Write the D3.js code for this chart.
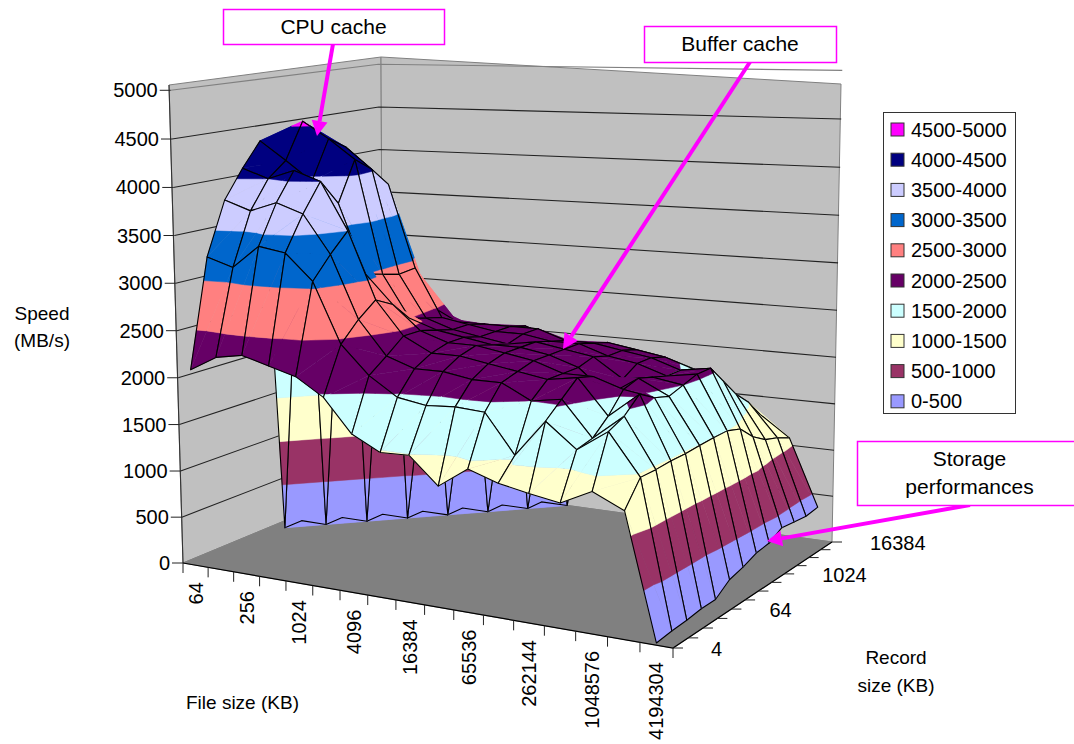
<!DOCTYPE html>
<html><head><meta charset="utf-8">
<script src="https://cdn.jsdelivr.net/npm/d3@7"></script>
<style>html,body{margin:0;background:#fff}svg{display:block;font-family:"Liberation Sans",Arial,sans-serif}</style>
</head><body><svg id="c" width="1074" height="744"></svg>
<script>
const fileSizes=[64,128,256,512,1024,2048,4096,8192,16384,32768,65536,131072,262144,524288,1048576,2097152,4194304];
const recordSizes=[4,8,16,32,64,128,256,512,1024,2048,4096,8192,16384];
const speedRecord4=[2100,2260,2310,2230,2150,1970,1630,1480,1490,1220,1430,1330,1270,1220,1370,1230,20];
const speedRecord8=[3240,3150,3390,3340,3070,2450,2160,1970,1920,1940,1920,1530,1900,1660,1870,1470,40];
const speedRecord16=[3800,3700,3800,3700,3300,2650,2300,2200,2200,2150,2150,2000,2050,1700,1950,1470,50];
const speedRecord32=[4100,4000,4100,4000,3500,2800,2450,2300,2300,2250,2200,2150,2200,1850,2100,1480,70];
const speedRecord64=[4360,4160,3950,3730,3000,2700,2450,2350,2350,2300,2250,2150,2150,2050,2000,1480,70];
const speedRecord128=[0,4550,4370,4160,2950,2500,2400,2350,2300,2300,2250,2150,1900,2100,1950,1490,180];
const speedRecord256=[0,0,4250,4020,2900,2450,2350,2300,2250,2300,2250,2200,2000,2050,2000,1500,220];
const speedRecord512=[0,0,0,3820,2920,2400,2350,2300,2300,2250,2250,2150,2100,2000,2050,1500,280];
const speedRecord1024=[0,0,0,0,2450,2300,2300,2300,2300,2200,2200,2150,2100,2000,2050,1450,300];
const speedRecord2048=[0,0,0,0,0,2200,2200,2250,2150,2100,2150,2100,2050,1950,1850,1300,380];
const speedRecord4096=[0,0,0,0,0,0,2100,2100,2000,1900,1950,1900,1800,1750,1650,1200,360];
const speedRecord8192=[0,0,0,0,0,0,0,1900,1800,1700,1700,1650,1600,1550,1500,1150,340];
const speedRecord16384=[0,0,0,0,0,0,0,0,1500,1500,1450,1400,1400,1350,1300,1080,360];
const speedRows=[speedRecord4,speedRecord8,speedRecord16,speedRecord32,speedRecord64,speedRecord128,speedRecord256,speedRecord512,speedRecord1024,speedRecord2048,speedRecord4096,speedRecord8192,speedRecord16384];
const bandLabels=["0-500","500-1000","1000-1500","1500-2000","2000-2500","2500-3000","3000-3500","3500-4000","4000-4500","4500-5000"];
const bandStarts=[0,500,1000,1500,2000,2500,3000,3500,4000,4500];
const bandColors=["#9999FF","#993366","#FFFFCC","#CCFFFF","#660066","#FF8080","#0066CC","#CCCCFF","#000080","#FF00FF"];
const speedTicks=[0,500,1000,1500,2000,2500,3000,3500,4000,4500,5000];

const svg=d3.select("#c");
const FONT=20;
// chart box corners on the page
const L=[183,563],F=[673,648],R=[832,542],B=[383,480],Lt=[169,85],Rt=[841,84],Bt=[381,57];
const uS=d3.scaleLinear().domain([-0.5,16.5]).range([0,1]);
const vS=d3.scaleLinear().domain([0,12]).range([0,1]);
const wS=d3.scaleLinear().domain([0,5000]).range([0,1]);
// perspective camera fitted to the corners
const dx1=F[0]-R[0],dx2=B[0]-R[0],sx=L[0]-F[0]+R[0]-B[0];
const dy1=F[1]-R[1],dy2=B[1]-R[1],sy=L[1]-F[1]+R[1]-B[1];
const den=dx1*dy2-dx2*dy1;
const g=(sx*dy2-dx2*sy)/den,h=(dx1*sy-sx*dy1)/den;
const a=F[0]-L[0]+g*F[0],b=B[0]-L[0]+h*B[0],c=L[0],d_=F[1]-L[1]+g*F[1],e=B[1]-L[1]+h*B[1],f=L[1];
function solveW(){
  const tops=[[0,0,Lt],[0,1,Bt],[1,1,Rt]];
  let A=[[0,0,0],[0,0,0],[0,0,0]],r=[0,0,0];
  tops.forEach(([u,v,p])=>{
    const hx=a*u+b*v+c,hy=d_*u+e*v+f,hw=g*u+h*v+1;
    [[[1,0,-p[0]],p[0]*hw-hx],[[0,1,-p[1]],p[1]*hw-hy]].forEach(([row,y])=>{
      for(let s=0;s<3;s++){r[s]+=row[s]*y;for(let t=0;t<3;t++)A[s][t]+=row[s]*row[t];}
    });
  });
  const det=m=>m[0][0]*(m[1][1]*m[2][2]-m[1][2]*m[2][1])-m[0][1]*(m[1][0]*m[2][2]-m[1][2]*m[2][0])+m[0][2]*(m[1][0]*m[2][1]-m[1][1]*m[2][0]);
  const D=det(A);
  return [0,1,2].map(k=>det(A.map((row,s)=>row.map((x,t)=>t===k?r[s]:x)))/D);
}
const [wx,wy,wh]=solveW();
function P(u,v,w){const q=g*u+h*v+wh*w+1;return [(a*u+b*v+wx*w+c)/q,(d_*u+e*v+wy*w+f)/q];}
const pt=(i,j,z)=>P(uS(i),vS(j),wS(z));
const line=d3.line();
const closed=pts=>line(pts)+"Z";

// walls and floor
svg.append("path").attr("d",closed([L,Lt,Bt,B])).attr("fill","#C0C0C0").attr("stroke","#808080");
svg.append("path").attr("d",closed([B,Bt,Rt,R])).attr("fill","#C0C0C0").attr("stroke","#808080");
svg.append("path").attr("d",closed([L,F,R,B])).attr("fill","#808080").attr("stroke","#808080");
speedTicks.slice(1,-1).forEach(t=>{
  svg.append("path").attr("d",line([P(0,0,wS(t)),P(0,1,wS(t)),P(1,1,wS(t))])).attr("fill","none").attr("stroke","#222").attr("stroke-width",1.1);
});
svg.append("path").attr("d",line([P(0,0,1),P(0,1,1),P(1,1,1)])).attr("fill","none").attr("stroke","#808080").attr("stroke-width",1.1);
svg.append("path").attr("d",line([L,Lt])).attr("stroke","#333").attr("stroke-width",1.1);
// axes
speedTicks.forEach(t=>{
  const p=P(0,0,wS(t));
  svg.append("line").attr("x1",p[0]-11).attr("x2",p[0]).attr("y1",p[1]).attr("y2",p[1]).attr("stroke","#222");
  svg.append("text").attr("x",p[0]-13).attr("y",p[1]+7).attr("text-anchor","end").attr("font-size",FONT).text(t);
});
svg.append("path").attr("d",line([L,F,R])).attr("fill","none").attr("stroke","#000").attr("stroke-width",1.2);
d3.range(0,18).forEach(k=>{
  const p=P(k/17,0,0);
  svg.append("line").attr("x1",p[0]).attr("x2",p[0]).attr("y1",p[1]).attr("y2",p[1]+10).attr("stroke","#222");
});
fileSizes.forEach((s,i)=>{
  if(i%2)return;
  const p=P(uS(i),0,0);
  svg.append("text").attr("transform",`translate(${p[0]+7},${p[1]+17}) rotate(-90)`).attr("text-anchor","end").attr("font-size",FONT).text(s);
});
recordSizes.forEach((s,j)=>{
  const p=P(1,vS(j),0);
  svg.append("line").attr("x1",p[0]).attr("x2",p[0]+10).attr("y1",p[1]).attr("y2",p[1]).attr("stroke","#222");
  if(j%4===0)svg.append("text").attr("x",p[0]+38).attr("y",p[1]+8).attr("font-size",FONT).text(s);
});

// surface, far cells first
function clip(poly,lo,hi){
  const cut=(pts,inside,lim)=>{
    const out=[];
    pts.forEach((p,k)=>{
      const q=pts[(k+1)%pts.length],pi=inside(p[2]),qi=inside(q[2]);
      if(pi)out.push(p);
      if(pi!==qi){const t=(lim-p[2])/(q[2]-p[2]);out.push([p[0]+t*(q[0]-p[0]),p[1]+t*(q[1]-p[1]),lim]);}
    });
    return out;
  };
  let o=cut(poly,z=>z>=lo,lo);
  if(o.length)o=cut(o,z=>z<=hi,hi);
  return o;
}
const gSurf=svg.append("g");
function tri(t){
  bandStarts.forEach((lo,k)=>{
    const hi=lo+500,pz=clip(t,k===0?-1:lo,hi);
    if(pz.length<3)return;
    gSurf.append("path").attr("d",closed(pz.map(p=>pt(p[0],p[1],p[2])))).attr("fill",bandColors[k]).attr("stroke",bandColors[k]).attr("stroke-width",0.5);
  });
}
for(let j=recordSizes.length-2;j>=0;j--){
  for(let i=0;i<fileSizes.length-1;i++){
    const z=(a,b)=>speedRows[b][a];
    const A=[i,j,z(i,j)],Bb=[i+1,j,z(i+1,j)],C=[i+1,j+1,z(i+1,j+1)],D=[i,j+1,z(i,j+1)];
    if(A[2]+Bb[2]+C[2]+D[2]===0)continue;
    tri([A,C,D]);tri([A,Bb,C]);
    gSurf.append("path").attr("d",closed([A,Bb,C,D].map(p=>pt(p[0],p[1],p[2])))).attr("fill","none").attr("stroke","#000").attr("stroke-width",1.1).attr("stroke-linejoin","round");
  }
}

// legend
const lg=svg.append("g");
lg.append("rect").attr("x",883.5).attr("y",112.5).attr("width",132).attr("height",301).attr("fill","#fff").attr("stroke","#333");
bandLabels.slice().reverse().forEach((t,k)=>{
  const col=bandColors[bandColors.length-1-k],y=129.5+k*30.2;
  lg.append("rect").attr("x",891).attr("y",y-6.5).attr("width",13).attr("height",13).attr("fill",col).attr("stroke","#333");
  lg.append("text").attr("x",911).attr("y",y+7).attr("font-size",FONT).text(t);
});

// axis titles
const title=(x,y,t,anchor)=>svg.append("text").attr("x",x).attr("y",y).attr("text-anchor",anchor||"middle").attr("font-size",19).text(t);
title(42,320,"Speed");title(42,347,"(MB/s)");
title(186,709,"File size (KB)","start");
title(896,664,"Record");title(896,692,"size (KB)");

// callouts
const MAG="#FF00FF";
function box(x,y,w,hh,lines){
  svg.append("rect").attr("x",x+.5).attr("y",y+.5).attr("width",w).attr("height",hh).attr("fill","#fff").attr("stroke",MAG).attr("stroke-width",1.5);
  lines.forEach((t,k)=>svg.append("text").attr("x",x+w/2).attr("y",y+25+k*28).attr("text-anchor","middle").attr("font-size",21).text(t));
}
function arrow(p,q){
  const ang=Math.atan2(q[1]-p[1],q[0]-p[0]),n=15,wd=8;
  const bx=q[0]-n*Math.cos(ang),by=q[1]-n*Math.sin(ang);
  svg.append("line").attr("x1",p[0]).attr("y1",p[1]).attr("x2",bx).attr("y2",by).attr("stroke",MAG).attr("stroke-width",4);
  svg.append("path").attr("d",closed([q,[bx-wd*Math.sin(ang),by+wd*Math.cos(ang)],[bx+wd*Math.sin(ang),by-wd*Math.cos(ang)]])).attr("fill",MAG);
}
arrow([333,44],[317,136]);
arrow([750,62],[563,349]);
arrow([970,505],[767,541]);
box(223,9,221,35,["CPU cache"]);
box(644,26,192,36,["Buffer cache"]);
box(857,441,225,64,["Storage","performances"]);
</script></body></html>
